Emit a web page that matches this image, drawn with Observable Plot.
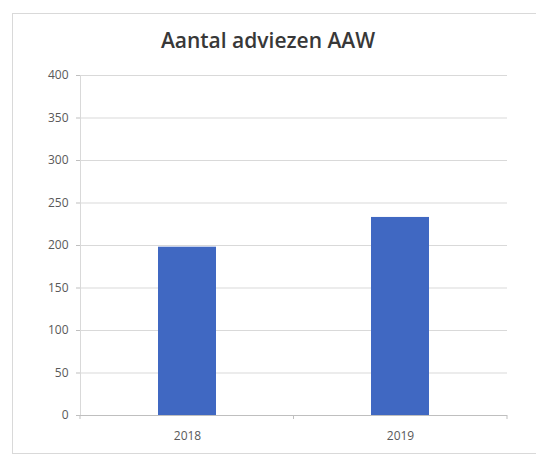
<!DOCTYPE html>
<html><head><meta charset="utf-8">
<script src="https://cdn.jsdelivr.net/npm/d3@7"></script>
<script src="https://cdn.jsdelivr.net/npm/@observablehq/plot@0.6"></script>
<style>
body{margin:0;background:#fff;}
#wrap{position:relative;width:536px;height:456px;overflow:hidden;font-family:"Open Sans",sans-serif;}
#border{position:absolute;left:12px;top:13px;width:540px;height:441px;border:1px solid #d9d9d9;box-sizing:border-box;}
#title{position:absolute;left:0;width:536px;top:28px;line-height:24px;text-align:center;font-size:21px;font-weight:600;color:#383838;}
#chart{position:absolute;left:0;top:0;}
</style></head><body>
<div id="wrap"><div id="border"></div><div id="title"></div><div id="chart"></div></div>
<script>
const chartTitle = "Aantal adviezen AAW";
const years = ["2018", "2019"];
const counts = [198, 233];
const yTicks = [0, 50, 100, 150, 200, 250, 300, 350, 400];

const data = years.map((year, i) => ({year, count: counts[i]}));
document.getElementById("title").textContent = chartTitle;

function boundaryTicks(index, scales, values, dim) {
  const g = d3.create("svg:g");
  const n = years.length;
  const x0 = dim.marginLeft;
  const w = dim.width - dim.marginLeft - dim.marginRight;
  const yb = dim.height - dim.marginBottom;
  for (let k = 0; k <= n; k++) {
    const x = x0 + k * w / n;
    g.append("line").attr("x1", x).attr("x2", x).attr("y1", yb).attr("y2", yb + 4).attr("stroke", "#bfbfbf");
  }
  return g.node();
}

const chart = Plot.plot({
  width: 536, height: 456,
  marginTop: 75, marginBottom: 41, marginLeft: 80, marginRight: 29,
  style: {fontFamily: "Open Sans", fontSize: "12px", color: "#595959", background: "transparent"},
  x: {domain: years, paddingInner: 0.728, paddingOuter: 0.364, label: null},
  y: {domain: [0, 400], label: null},
  marks: [
    Plot.ruleY(yTicks.filter(d => d > 0), {stroke: "#d9d9d9"}),
    Plot.frame({anchor: "left", stroke: "#d9d9d9"}),
    Plot.barY(data, {x: "year", y: "count", fill: "#4068c2"}),
    Plot.ruleY([0], {stroke: "#bfbfbf"}),
    Plot.axisY({ticks: yTicks, tickSize: 4, tickPadding: 8, stroke: "#bfbfbf", label: null}),
    Plot.axisX({tickSize: 0, tickPadding: 16, label: null}),
    boundaryTicks
  ]
});
document.getElementById("chart").appendChild(chart);
</script>
</body></html>
